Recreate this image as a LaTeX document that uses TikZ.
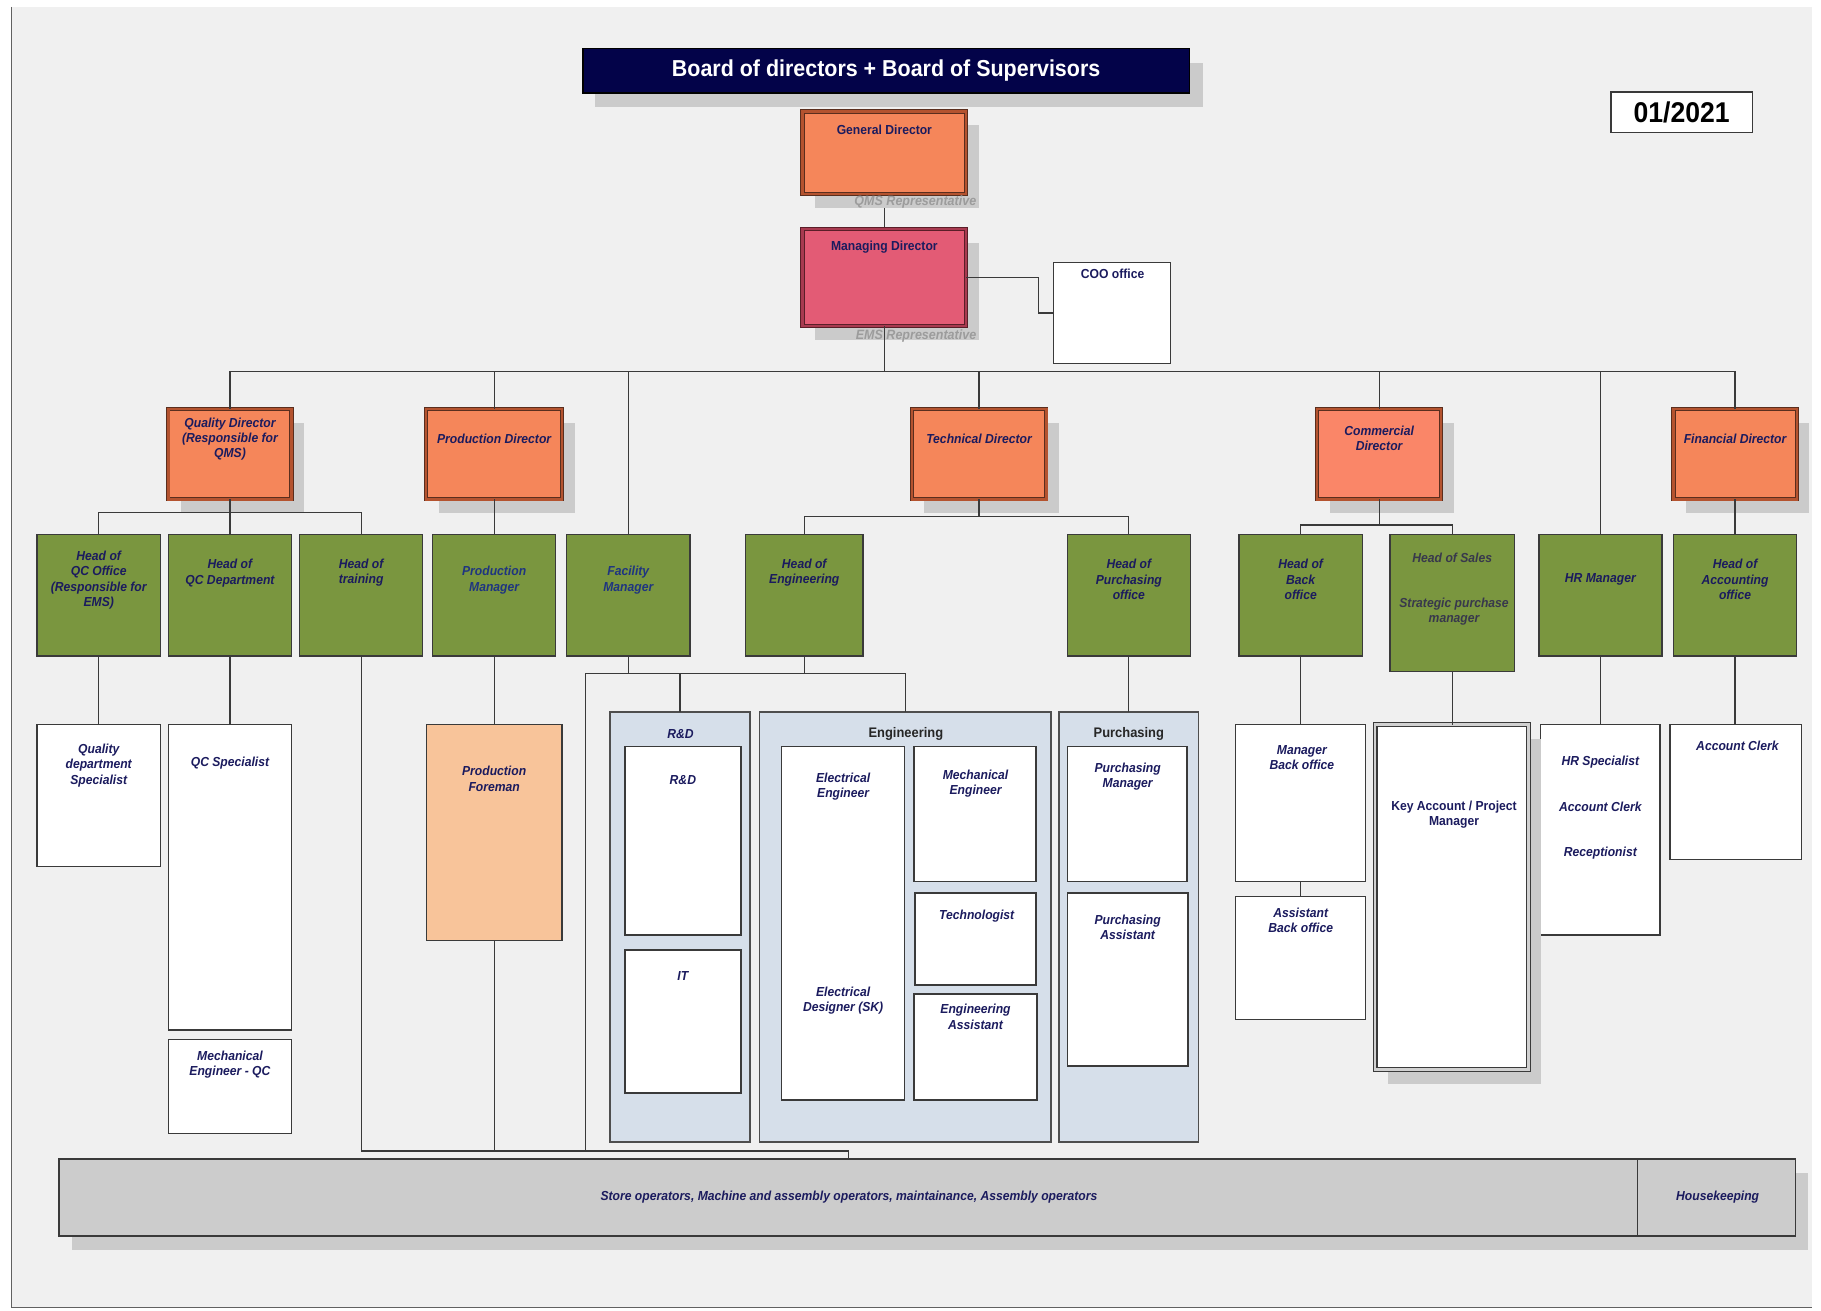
\documentclass[tikz,border=0pt]{standalone}
\usepackage{fontspec}
\setmainfont{Liberation Sans}[FakeStretch=0.93]
\usetikzlibrary{calc}
\pgfdeclarelayer{bglayer}
\pgfdeclarelayer{shlayer}
\pgfsetlayers{bglayer,shlayer,main}
\definecolor{bgc}{HTML}{F0F0F0}
\definecolor{shc}{HTML}{CBCBCB}
\definecolor{navyt}{HTML}{1B1B5E}
\definecolor{bluet}{HTML}{1F3580}
\definecolor{titlec}{HTML}{030349}
\definecolor{orangec}{HTML}{F5865A}
\definecolor{salmonc}{HTML}{FA8668}
\definecolor{pinkc}{HTML}{E35B75}
\definecolor{greenc}{HTML}{7A963F}
\definecolor{peachc}{HTML}{F8C49A}
\definecolor{contc}{HTML}{D6DFEA}
\definecolor{barc}{HTML}{CCCCCC}
\definecolor{linec}{HTML}{3A3A3A}
\definecolor{brownb}{HTML}{B4532F}
\definecolor{brownd}{HTML}{5A2E1E}
\definecolor{pinkb}{HTML}{A83A50}
\definecolor{pinkd}{HTML}{5A1E28}
\definecolor{grayt}{HTML}{9C9C9C}
\definecolor{salest}{HTML}{38384C}
\begin{document}
\begin{tikzpicture}[x=0.02cm,y=-0.02cm,
  sz/.style 2 args={minimum width=#1*0.02cm, minimum height=#2*0.02cm, inner sep=0pt, outer sep=0pt},
  dirbox/.style={draw=brownd, double=brownb, double distance=1.1pt, line width=0.45pt, fill=orangec},
  mdbox/.style={draw=pinkd, double=pinkb, double distance=1.1pt, line width=0.45pt, fill=pinkc},
  gbox/.style={draw=linec, line width=0.7pt, fill=greenc},
  wbox/.style={draw=linec, line width=0.7pt, fill=white},
  pbox/.style={draw=linec, line width=0.7pt, fill=peachc},
  cbox/.style={draw=linec!90, line width=0.9pt, fill=contc},
  kbox/.style={draw=linec, double=black!18, double distance=1.4pt, line width=0.5pt, fill=white},
  barbox/.style={draw=linec, line width=0.8pt, fill=barc},
  t/.style={font=\fontsize{6.4}{7.5}\selectfont\bfseries\itshape, text=navyt, align=center, inner sep=0pt},
  tu/.style={font=\fontsize{6.4}{7.5}\selectfont\bfseries, text=navyt, align=center, inner sep=0pt},
  th/.style={font=\fontsize{6.8}{8}\selectfont\bfseries, text=black!85, align=center, inner sep=0pt},
  tr/.style={font=\fontsize{6.6}{7.5}\selectfont\bfseries\itshape, text=grayt, anchor=east, inner sep=0pt},
  conn/.style={draw=linec, line width=0.6pt}
]
\useasboundingbox (0,0) rectangle (1568,1128);
\begin{pgfonlayer}{bglayer}
\fill[white] (0,0) rectangle (1568,1128);
\fill[bgc] (10,6) rectangle (1560,1126);
\draw[linec!80, line width=0.6pt] (10,6) -- (10,1126) -- (1560,1126);
\end{pgfonlayer}

% top
\node[draw=black, line width=0.6pt, fill=titlec, sz={522}{38}, text=white, font=\fontsize{11.3}{13}\selectfont\bfseries] (title) at (763,61) {Board of directors + Board of Supervisors};
\node[draw=linec, line width=0.8pt, fill=white, sz={122}{35}, font=\fontsize{14}{16}\selectfont\bfseries] (date) at (1448,96.5) {01/2021};

\node[dirbox, sz={141}{71}] (gd) at (761.5,131.5) {};
\node[tu] (gdt) at (761.5,112) {General Director};
\node[mdbox, sz={141}{84}] (md) at (761.5,239) {};
\node[tu] (mdt) at (761.5,213) {Managing Director};
\node[wbox, sz={101}{87}] (coo) at (957.5,269.5) {};
\node[tu] (coot) at (958,236) {COO office};

% directors
\node[dirbox, sz={106}{78}] (qd) at (198,391) {};
\node[t] (qdt) at (198,378) {Quality Director\\(Responsible for\\QMS)};
\node[dirbox, sz={117}{78}] (pd) at (425.5,391) {};
\node[t] (pdt) at (425.5,378) {Production Director};
\node[dirbox, sz={116}{78}] (td) at (843,391) {};
\node[t] (tdt) at (843,378) {Technical Director};
\node[dirbox, fill=salmonc, sz={107}{78}] (cd) at (1187.5,391) {};
\node[t] (cdt) at (1187.5,377.5) {Commercial\\Director};
\node[dirbox, sz={106}{78}] (fd) at (1494,391) {};
\node[t] (fdt) at (1494,378) {Financial Director};

% green
\node[gbox, sz={106}{105}] (hqco) at (85,512.5) {};
\node[t] (hqcot) at (85,499.5) {Head of\\QC Office\\(Responsible for\\EMS)};
\node[gbox, sz={106}{105}] (hqcd) at (198,512.5) {};
\node[t] (hqcdt) at (198,493.5) {Head of\\QC Department};
\node[gbox, sz={106}{105}] (htr) at (311,512.5) {};
\node[t] (htrt) at (311,493) {Head of\\training};
\node[gbox, sz={106}{105}] (pm) at (425.5,512.5) {};
\node[t, text=bluet] (pmt) at (425.5,499.5) {Production\\Manager};
\node[gbox, sz={106}{105}] (fm) at (541,512.5) {};
\node[t, text=bluet] (fmt) at (541,499.5) {Facility\\Manager};
\node[gbox, sz={101}{105}] (he) at (692.5,512.5) {};
\node[t] (het) at (692.5,493) {Head of\\Engineering};
\node[gbox, sz={106}{105}] (hp) at (972,512.5) {};
\node[t] (hpt) at (972,499) {Head of\\Purchasing\\office};
\node[gbox, sz={106}{105}] (hbo) at (1120,512.5) {};
\node[t] (hbot) at (1120,499) {Head of\\Back\\office};
\node[gbox, sz={107}{118}] (hs) at (1250.5,519) {};
\node[t, text=salest] (hst1) at (1250.5,480) {Head of Sales};
\node[t, text=salest] (hst2) at (1252,526.5) {Strategic purchase\\manager};
\node[gbox, sz={106}{105}] (hr) at (1378,512.5) {};
\node[t] (hrt) at (1378,499) {HR Manager};
\node[gbox, sz={106}{105}] (ha) at (1494,512.5) {};
\node[t] (hat) at (1494,499) {Head of\\Accounting\\office};

% level 3 left
\node[wbox, sz={106}{122}] (qds) at (85,685) {};
\node[t] (qdst) at (85,659) {Quality\\department\\Specialist};
\node[wbox, sz={106}{263}] (qcs) at (198,755.5) {};
\node[t] (qcst) at (198,657) {QC Specialist};
\node[wbox, sz={106}{81}] (meqc) at (198,935.5) {};
\node[t] (meqct) at (198,916.5) {Mechanical\\Engineer - QC};
\node[pbox, sz={117}{186}] (pf) at (425.5,717) {};
\node[t] (pft) at (425.5,670.5) {Production\\Foreman};

% containers
\node[cbox, sz={121}{370}] (rdc) at (585.5,798) {};
\node[t] (rdct) at (586,632) {R\&D};
\node[cbox, sz={251}{370}] (engc) at (779.5,798) {};
\node[th] (engct) at (780,632) {Engineering};
\node[cbox, sz={120}{370}] (purc) at (972,798) {};
\node[th] (purct) at (972,632) {Purchasing};

\node[wbox, sz={100}{162}] (rd) at (588,724) {};
\node[t] (rdt) at (588,672) {R\&D};
\node[wbox, sz={100}{123}] (it) at (588,879.5) {};
\node[t] (itt) at (588,840) {IT};
\node[wbox, sz={106}{304}] (ee) at (726,795) {};
\node[t] (eet1) at (726,677.5) {Electrical\\Engineer};
\node[t] (eet2) at (726,861.5) {Electrical\\Designer (SK)};
\node[wbox, sz={105}{116}] (me) at (839.5,701) {};
\node[t] (met) at (840,674.5) {Mechanical\\Engineer};
\node[wbox, sz={104}{79}] (tech) at (840,808.5) {};
\node[t] (techt) at (841,789) {Technologist};
\node[wbox, sz={106}{91}] (ea) at (840,901.5) {};
\node[t] (eat) at (840,875.5) {Engineering\\Assistant};
\node[wbox, sz={103}{116}] (pmg) at (970.5,701) {};
\node[t] (pmgt) at (971,668.5) {Purchasing\\Manager};
\node[wbox, sz={104}{149}] (pa) at (971,843.5) {};
\node[t] (pat) at (971,798.5) {Purchasing\\Assistant};

% level 3 right
\node[wbox, sz={112}{135}] (mbo) at (1120,691.5) {};
\node[t] (mbot) at (1121,652.5) {Manager\\Back office};
\node[wbox, sz={112}{106}] (abo) at (1120,825) {};
\node[t] (abot) at (1120,792.5) {Assistant\\Back office};
\node[wbox, sz={103}{181}] (hrs) at (1378,714.5) {};
\node[t] (hrst1) at (1378,656) {HR Specialist};
\node[t] (hrst2) at (1378,695) {Account Clerk};
\node[t] (hrst3) at (1378,735) {Receptionist};
% shadow of the key account box, drawn over the left edge of the HR box
\fill[shc] (1195,636) rectangle (1327.3,933);
\node[kbox, sz={132}{297}] (kam) at (1250,772.5) {};
\node[tu] (kamt) at (1252,701.5) {Key Account / Project\\Manager};
\node[wbox, sz={113}{116}] (ac) at (1494.5,682) {};
\node[t] (act) at (1496,642) {Account Clerk};

% bottom bar
\node[barbox, sz={1359}{66}] (mainbar) at (730.5,1031) {};
\node[t] (mainbart) at (731,1031) {Store operators, Machine and assembly operators, maintainance, Assembly operators};
\node[barbox, sz={136}{66}] (hk) at (1478,1031) {};
\node[t] (hkt) at (1479,1031) {Housekeeping};

% shadows (the general director's shadow hides the top of its connector)
\begin{pgfonlayer}{shlayer}
\draw[conn] (gd.south) -- (md.north);
\foreach \n in {gd,md,qd,pd,td,cd,fd,mainbar,hk}{
  \fill[shc] ($(\n.south west)+(11,12)$) rectangle ($(\n.north east)+(11,12)$);
}
\fill[shc] ($(title.south west)+(10,12)$) rectangle ($(title.north east)+(12,12)$);
\end{pgfonlayer}
\node[tr] (qmsr) at (841,174) {QMS Representative};

% connectors
\coordinate (busy) at (0,320);
\coordinate (qbus) at (0,441);
\coordinate (tbus) at (0,445);
\coordinate (cbus) at (0,452);
\coordinate (ebus) at (0,580);
\coordinate (botbus) at (0,991);
\coordinate (lft) at (504,580);

\draw[conn] (md.east) -- ++(62,0) |- (coo.west);
\draw[conn] (md.south) -- (md.south |- busy);
\node[tr] (emsr) at (841,289) {EMS Representative};
\draw[conn] (qd.north) -- (qd.north |- busy) -- (fd.north |- busy) -- (fd.north);
\foreach \n in {pd,td,cd,fm,hr}{\draw[conn] (\n.north) -- (\n.north |- busy);}

\draw[conn] (qd.south) -- (hqcd.north);
\draw[conn] (hqco.north) -- (hqco.north |- qbus) -- (htr.north |- qbus) -- (htr.north);
\draw[conn] (pd.south) -- (pm.north);
\draw[conn] (td.south) -- (td.south |- tbus);
\draw[conn] (he.north) -- (he.north |- tbus) -- (hp.north |- tbus) -- (hp.north);
\draw[conn] (cd.south) -- (cd.south |- cbus);
\draw[conn] (hbo.north) -- (hbo.north |- cbus) -- (hs.north |- cbus) -- (hs.north);
\draw[conn] (fd.south) -- (ha.north);

\draw[conn] (hqco.south) -- (qds.north);
\draw[conn] (hqcd.south) -- (qcs.north);
\draw[conn] (pm.south) -- (pf.north);
\draw[conn] (fm.south) -- (fm.south |- ebus);
\draw[conn] (he.south) -- (he.south |- ebus);
\draw[conn] (lft) -- (engc.north |- ebus) -- (engc.north);
\draw[conn] (rdc.north |- ebus) -- (rdc.north);
\draw[conn] (hp.south) -- (purc.north);
\draw[conn] (hbo.south) -- (mbo.north);
\draw[conn] (mbo.south) -- (abo.north);
\draw[conn] (hs.south) -- (hs.south |- kam.north);
\draw[conn] (hr.south) -- (hrs.north);
\draw[conn] (ha.south) -- (ha.south |- ac.north);

\draw[conn] (htr.south) -- (htr.south |- botbus) -- (mainbar.north |- botbus) -- (mainbar.north);
\draw[conn] (pf.south) -- (pf.south |- botbus);
\draw[conn] (lft) -- (lft |- botbus);
\end{tikzpicture}
\end{document}
